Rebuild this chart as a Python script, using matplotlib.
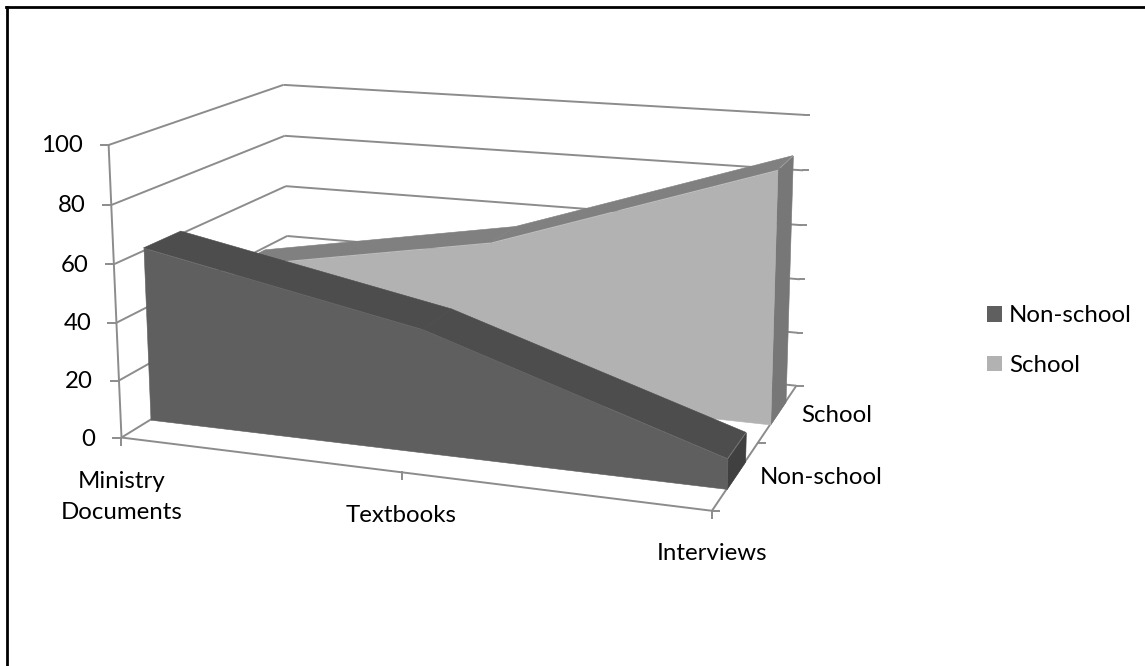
import numpy as np
import matplotlib
matplotlib.use("Agg")
import matplotlib.pyplot as plt
from matplotlib.lines import Line2D
from matplotlib.patches import Patch
from matplotlib.transforms import IdentityTransform
from mpl_toolkits.mplot3d.art3d import Poly3DCollection, Line3DCollection

# Chart data
categories = ["Ministry\nDocuments", "Textbooks", "Interviews"]
series_names = ["Non-school", "School"]
non_school = [61, 42, 10]
school = [39, 56, 89]
value_ticks = [0, 20, 40, 60, 80, 100]

WIDTH, HEIGHT = 1145, 666
FONT = "Lato"
FONT_SIZE = 17.3
GRID = "#8c8c8c"
GRID_WIDTH = 1.4
NEAR, FAR = 0.3, 0.7  # extent of a ribbon within its depth slot

plt.rcParams["font.family"] = [FONT, "DejaVu Sans"]

# Camera anchors: box coordinates (category, series depth, value) -> canvas pixel.
camera_anchors = [
    (0, 0, 0, 122, 437), (0, 0, 60, 115, 264), (0, 0, 80, 111, 205), (0, 0, 100, 108, 145),
    (0, 2, 0, 289, 334), (0, 2, 60, 286.7, 187), (0, 2, 80, 285, 136), (0, 2, 100, 283, 84),
    (2, 2, 0, 796, 386), (2, 2, 80, 802.5, 170.7), (2, 2, 100, 805, 115),
    (2, 0, 0, 712, 511), (2, 1, 0, 757.7, 443), (1, 0, 0, 401, 473),
    (0, NEAR, 0, 150, 420), (2, NEAR, 0, 727, 488), (2, FAR, 0, 745, 462),
    (2, 1 + NEAR, 0, 770, 425), (2, 1 + FAR, 0, 786.7, 400),
]


def fit_camera(anchors):
    """Least-squares 3x4 projective camera from box coordinates to canvas pixels."""
    rows, rhs = [], []
    for x, y, z, u, v in anchors:
        z = z / 100
        rows.append([x, y, z, 1, 0, 0, 0, 0, -u * x, -u * y, -u * z])
        rhs.append(u)
        rows.append([0, 0, 0, 0, x, y, z, 1, -v * x, -v * y, -v * z])
        rhs.append(v)
    p = np.linalg.lstsq(np.array(rows), np.array(rhs), rcond=None)[0]
    cam = np.append(p, 1.0).reshape(3, 4)
    cam[:, 2] /= 100
    return cam


CAMERA = fit_camera(camera_anchors)


def to_pixel(x, y, z):
    h = CAMERA @ np.array([x, y, z, 1.0])
    return h[0] / h[2], h[1] / h[2]


fig = plt.figure(figsize=(WIDTH / 100, HEIGHT / 100), dpi=100, facecolor="white")
ax = fig.add_axes([0, 0, 1, 1], projection="3d", computed_zorder=False)
ax.set_axis_off()


def camera_projection():
    # Canvas pixels (origin top-left) -> display -> the view frame of the 3D axes.
    to_view = ax.transData.inverted().get_matrix()
    flip = np.array([[1, 0, 0], [0, -1, HEIGHT], [0, 0, 1]], dtype=float)
    hom = to_view @ flip @ CAMERA
    return np.array([hom[0], hom[1], [0, 1, 0, 0], hom[2]])


ax.get_proj = camera_projection


def faces(polys, color, zorder):
    coll = Poly3DCollection(polys, facecolors=color, edgecolors=color, linewidths=0.4,
                            zorder=zorder)
    ax.add_collection3d(coll, autolim=False)
    coll.set_clip_on(False)


def pixel_segment(p0, p1):
    # Tick marks keep a fixed on-screen length, so they are laid out in display space.
    fig.add_artist(Line2D([p0[0], p1[0]], [HEIGHT - p0[1], HEIGHT - p1[1]], color=GRID, lw=GRID_WIDTH,
                          transform=IdentityTransform(), zorder=1))


last = len(categories) - 1

# Walls and floor outline
frame_segments = []
for val in value_ticks:
    frame_segments.append([(0, 0, val), (0, 2, val)])
    frame_segments.append([(0, 2, val), (last, 2, val)])
frame_segments.append([(0, 0, 0), (0, 0, 100)])
frame_segments.append([(0, 0, 0), (last, 0, 0)])
frame_segments.append([(last, 0, 0), (last, 2, 0)])
frame = Line3DCollection(frame_segments, colors=GRID, linewidths=GRID_WIDTH, zorder=1)
ax.add_collection3d(frame, autolim=False)
frame.set_clip_on(False)

# Ticks on the value, depth and category axes
for val in value_ticks:
    px, py = to_pixel(0, 0, val)
    pixel_segment((px - 8, py), (px, py))
    px, py = to_pixel(last, 2, val)
    if val:
        pixel_segment((px, py), (px + 4.5, py))
for d in range(3):
    px, py = to_pixel(last, d, 0)
    pixel_segment((px, py), (px + 7, py))
for c in range(len(categories)):
    px, py = to_pixel(c, 0, 0)
    pixel_segment((px, py), (px, py + 7))


# One ribbon per series, furthest first
def ribbon(values, near, far, front, top, cap, zorder):
    n = len(values)
    front_poly = [(i, near, values[i]) for i in range(n)] + [(i, near, 0) for i in reversed(range(n))]
    top_polys = [[(i, near, values[i]), (i + 1, near, values[i + 1]),
                  (i + 1, far, values[i + 1]), (i, far, values[i])] for i in range(n - 1)]
    cap_poly = [(n - 1, near, values[-1]), (n - 1, far, values[-1]), (n - 1, far, 0), (n - 1, near, 0)]
    faces([cap_poly], cap, zorder)
    faces(top_polys, top, zorder + 1)
    faces([front_poly], front, zorder + 2)


ribbon(school, 1 + NEAR, 1 + FAR, "#b2b2b2", "#808080", "#777777", 5)
ribbon(non_school, NEAR, FAR, "#5f5f5f", "#4d4d4d", "#404040", 10)


# Text, positioned in canvas pixels
def label(x, y, s, ha="center"):
    fig.text(x / WIDTH, 1 - y / HEIGHT, s, ha=ha, va="center", fontsize=FONT_SIZE, color="black",
             linespacing=1.55)


for val, right, yc in zip(value_ticks, [95, 93, 91, 88, 86, 83], [439, 381, 323, 265, 206, 146]):
    label(right, yc, str(val), ha="right")
label(122, 497, categories[0])
label(401, 515, categories[1])
label(712, 554, categories[2])
label(837, 416, series_names[1])
label(821, 478, series_names[0])

# Legend
handles = [Patch(facecolor="#5f5f5f", edgecolor="none"), Patch(facecolor="#b2b2b2", edgecolor="none")]
fig.legend(handles, series_names, loc="upper left", bbox_to_anchor=(980 / WIDTH, 1 - 298 / HEIGHT),
           frameon=False, fontsize=FONT_SIZE, handlelength=0.63, handleheight=0.63,
           handletextpad=0.28, labelspacing=1.2, borderaxespad=0, borderpad=0.3)

# Partial outer frame: top and left edges only
fig.add_artist(Line2D([7, 7], [0, HEIGHT - 7], color="black", lw=2, transform=IdentityTransform()))
fig.add_artist(Line2D([6, WIDTH], [HEIGHT - 7, HEIGHT - 7], color="black", lw=2, transform=IdentityTransform()))

fig.savefig("out.png", dpi=100, facecolor="white")
